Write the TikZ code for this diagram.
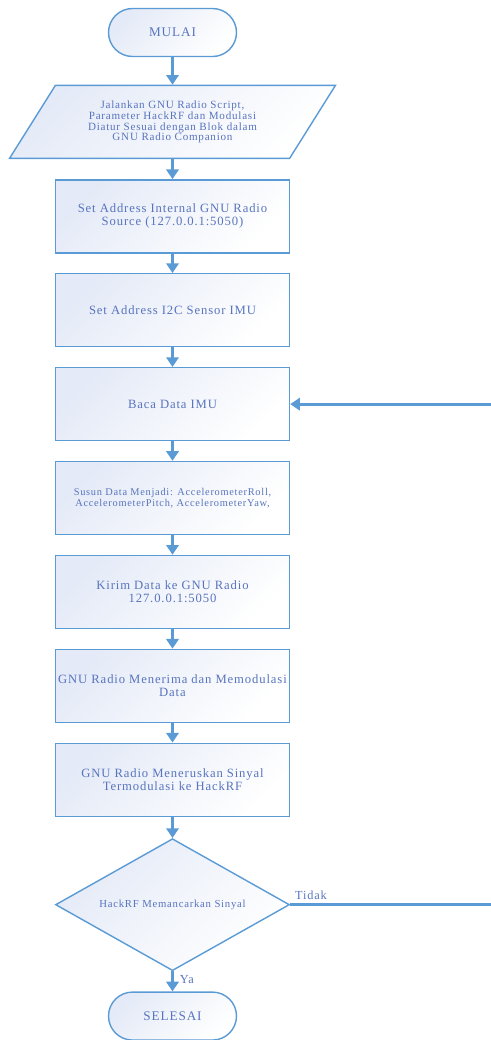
\documentclass[tikz,border=0pt]{standalone}
\usepackage{fontspec}
\setmainfont{Liberation Serif}[LetterSpace=7]
\usepackage{tikz}
\usetikzlibrary{arrows.meta, positioning, calc, shapes.geometric}
\definecolor{lineblue}{RGB}{91,155,213}
\definecolor{fillblue}{RGB}{228,234,247}
\definecolor{textblue}{RGB}{88,116,190}

\begin{document}
\begin{tikzpicture}[
          node distance=0.39cm,
          >={Triangle[length=5.5pt,width=7pt]},
          flow/.style={->, draw=lineblue, line width=1.6pt},
          base/.style={draw=lineblue, line width=0.8pt, top color=fillblue, bottom color=white,
            shading angle=45, text=textblue, align=center},
          terminal/.style={base, rectangle, rounded corners=0.48cm, minimum width=2.56cm,
            minimum height=0.96cm, font=\fontsize{7.5}{8}\selectfont},
          process/.style={base, rectangle, minimum width=4.68cm, minimum height=1.46cm,
            inner xsep=1pt, font=\fontsize{7.2}{7.4}\selectfont},
          smallproc/.style={process, font=\fontsize{5.9}{6.1}\selectfont},
          io/.style={base, trapezium, trapezium left angle=57, trapezium right angle=123,
            trapezium stretches=true, minimum width=6.52cm, minimum height=1.46cm,
            font=\fontsize{6.3}{6.2}\selectfont},
          decision/.style={base, diamond, aspect=1.8, minimum width=4.68cm, minimum height=2.64cm,
            inner sep=0pt, font=\fontsize{6.1}{6.5}\selectfont},
          lbl/.style={text=textblue, font=\fontsize{7}{8}\selectfont}
        ]
        \useasboundingbox (0,0) rectangle (9.8,-20.8);
        \node [terminal] (mulai) at (3.45,-0.65) {MULAI};
        \node [io, below=0.55cm of mulai] (jalankan) {Jalankan GNU Radio Script,\\Parameter HackRF dan Modulasi\\Diatur Sesuai dengan Blok dalam\\GNU Radio Companion};
        \node [process, below=0.4cm of jalankan] (setgnu) {Set Address Internal GNU Radio\\Source (127.0.0.1:5050)};
        \node [process, below=of setgnu] (seti2c) {Set Address I2C Sensor IMU};
        \node [process, below=of seti2c] (baca) {Baca Data IMU};
        \node [smallproc, below=of baca] (susun) {Susun Data Menjadi: AccelerometerRoll,\\AccelerometerPitch, AccelerometerYaw,};
        \node [process, below=of susun] (kirim) {Kirim Data ke GNU Radio\\127.0.0.1:5050};
        \node [process, below=of kirim] (modulasi) {GNU Radio Menerima dan Memodulasi\\Data};
        \node [process, below=of modulasi] (teruskan) {GNU Radio Meneruskan Sinyal\\Termodulasi ke HackRF};
        \node [decision, below=0.42cm of teruskan] (pancar) {HackRF Memancarkan Sinyal};
        \node [terminal, below=0.4cm of pancar] (selesai) {SELESAI};
        \coordinate (balik) at ($(pancar.east)+(4.6,0)$);

        \draw [flow] (mulai) -- (jalankan);
        \draw [flow] (jalankan) -- (setgnu);
        \draw [flow] (setgnu) -- (seti2c);
        \draw [flow] (seti2c) -- (baca);
        \draw [flow] (baca) -- (susun);
        \draw [flow] (susun) -- (kirim);
        \draw [flow] (kirim) -- (modulasi);
        \draw [flow] (modulasi) -- (teruskan);
        \draw [flow] (teruskan) -- (pancar);
        \draw [flow] (pancar) -- node [lbl, right, pos=0.4] {Ya} (selesai);
        \draw [flow] (pancar.east) -- node [lbl, above right, pos=0, inner sep=2pt] {Tidak} (balik) |- (baca.east);
        \end{tikzpicture}
\end{document}
